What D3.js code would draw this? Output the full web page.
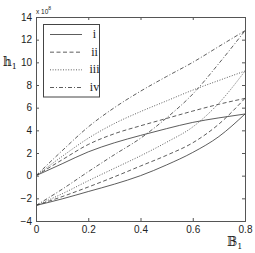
<!DOCTYPE html>
<html>
<head>
<meta charset="utf-8">
<script src="https://cdn.jsdelivr.net/npm/d3@7"></script>
<style>
  body { margin: 0; background: #fff; }
  svg { display: block; }
</style>
</head>
<body>
<svg id="chart" width="255" height="253"></svg>
<script>
// x positions shared by all curves
const xs = [0, 0.1, 0.2, 0.3, 0.4, 0.5, 0.6, 0.7, 0.8];

// upper branches (start at 0), values x 10^8
const upperI   = [0, 1.05, 2.1, 2.9, 3.55, 4.15, 4.7, 5.1, 5.44];
const upperII  = [0, 1.4, 2.75, 3.7, 4.4, 5.05, 5.7, 6.3, 6.82];
const upperIII = [0, 1.7, 3.3, 4.6, 5.65, 6.6, 7.55, 8.4, 9.23];
const upperIV  = [0, 2.2, 4.3, 6.0, 7.45, 8.75, 10.0, 11.4, 12.79];

// lower branches (start at about -2.63)
const lowerI   = [-2.63, -2.05, -1.4, -0.75, 0.0, 0.95, 2.05, 3.45, 5.44];
const lowerII  = [-2.63, -1.85, -1.0, -0.1, 0.85, 1.8, 2.9, 4.55, 6.82];
const lowerIII = [-2.63, -1.6, -0.45, 0.65, 1.75, 2.95, 4.3, 6.4, 9.23];
const lowerIV  = [-2.63, -1.2, 0.35, 1.85, 3.3, 5.1, 7.2, 9.9, 12.79];

const seriesNames = ["i", "ii", "iii", "iv"];
const xTicks = [0, 0.2, 0.4, 0.6, 0.8];
const yTicks = [-4, -2, 0, 2, 4, 6, 8, 10, 12, 14];

const dashes = ["none", "4,2.5", "1,1.6", "4,2,1,2"];
const lineColor = "#333";

const margin = { left: 36, right: 10, top: 17, bottom: 32 };
const W = 255, H = 253;

const svg = d3.select("#chart");

const x = d3.scaleLinear().domain([0, 0.8]).range([margin.left, W - margin.right]);
const y = d3.scaleLinear().domain([-4, 14]).range([H - margin.bottom, margin.top]);

const line = d3.line()
  .x((d, i) => x(xs[i]))
  .y(d => y(d))
  .curve(d3.curveMonotoneX);

const curves = [
  [upperI, lowerI],
  [upperII, lowerII],
  [upperIII, lowerIII],
  [upperIV, lowerIV]
];

// curves
curves.forEach((pair, k) => {
  pair.forEach(vals => {
    svg.append("path")
      .attr("d", line(vals))
      .attr("fill", "none")
      .attr("stroke", lineColor)
      .attr("stroke-width", 0.8)
      .attr("stroke-dasharray", dashes[k]);
  });
});

// axes (ticks inside, mirrored on top and right)
const tickFont = "Liberation Sans, Arial, sans-serif";
const ax = svg.append("g").attr("font-family", tickFont).attr("font-size", 7);

const xBottom = d3.axisBottom(x).tickValues(xTicks).tickSize(-3).tickPadding(5)
  .tickFormat(d => d === 0 ? "0" : d3.format(".1f")(d));
const yLeft = d3.axisLeft(y).tickValues(yTicks).tickSize(-3).tickPadding(4);
const xTop = d3.axisTop(x).tickValues(xTicks).tickSize(-3).tickFormat("");
const yRight = d3.axisRight(y).tickValues(yTicks).tickSize(-3).tickFormat("");

[
  [xBottom, `translate(0,${y(-4)})`],
  [yLeft, `translate(${x(0)},0)`],
  [xTop, `translate(0,${y(14)})`],
  [yRight, `translate(${x(0.8)},0)`]
].forEach(([axis, tr]) => {
  const g = ax.append("g").attr("transform", tr).call(axis);
  g.select(".domain").attr("stroke", "#555").attr("stroke-width", 1);
  g.selectAll(".tick line").attr("stroke", "#555");
  g.selectAll(".tick text").attr("fill", "#222");
});

// exponent label
const expo = svg.append("text")
  .attr("x", x(0))
  .attr("y", 13.5)
  .attr("font-family", tickFont)
  .attr("font-size", 6.5)
  .attr("fill", "#222");
expo.append("tspan").text("x 10");
expo.append("tspan").attr("dy", -3.5).attr("font-size", 5).text("8");

// axis labels
const labelFont = "DejaVu Serif, serif";
const yl = svg.append("text")
  .attr("x", 3).attr("y", 66)
  .attr("font-family", labelFont).attr("font-size", 12).attr("fill", "#222");
yl.append("tspan").text("\u{1D559}");
yl.append("tspan").attr("dy", 3).attr("font-size", 8).text("1");

const xl = svg.append("text")
  .attr("x", 227).attr("y", 246)
  .attr("font-family", labelFont).attr("font-size", 12).attr("fill", "#222");
xl.append("tspan").text("\u{1D539}");
xl.append("tspan").attr("dy", 3).attr("font-size", 8).text("1");

// legend
const lg = svg.append("g");
lg.append("rect")
  .attr("x", 43.5).attr("y", 24.5)
  .attr("width", 56).attr("height", 72.5)
  .attr("fill", "#fff").attr("stroke", "#444").attr("stroke-width", 1);

const rowY = d3.scalePoint().domain(seriesNames).range([34.5, 87.5]);

seriesNames.forEach((name, k) => {
  lg.append("line")
    .attr("x1", 50).attr("x2", 82)
    .attr("y1", rowY(name)).attr("y2", rowY(name))
    .attr("stroke", lineColor).attr("stroke-width", 0.8)
    .attr("stroke-dasharray", dashes[k]);
  lg.append("text")
    .attr("x", 94.5).attr("y", rowY(name) + 3.5)
    .attr("text-anchor", "middle")
    .attr("font-family", "Liberation Serif, Times New Roman, serif")
    .attr("font-size", 12).attr("fill", "#222")
    .text(name);
});
</script>
</body>
</html>
